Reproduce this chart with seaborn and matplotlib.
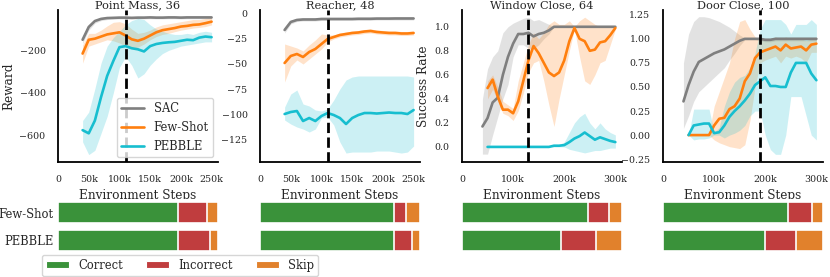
import matplotlib
matplotlib.use("Agg")
import matplotlib.pyplot as plt
from matplotlib.patches import Patch
from matplotlib.lines import Line2D
import seaborn as sns

sns.set_theme(style="white")
plt.rcParams["font.family"] = ["DejaVu Serif"]
plt.rcParams["axes.edgecolor"] = "black"
plt.rcParams["axes.linewidth"] = 1.3

# ---- learning curves (x in thousands of environment steps) ----
titles = ["Point Mass, 36", "Reacher, 48", "Window Close, 64", "Door Close, 100"]
switch_steps = [110, 110, 130, 190]

pm_steps = [40, 50, 60, 70, 80, 90, 100, 110, 120, 130, 140, 150, 160, 170, 180, 190, 200, 210, 220, 230, 240, 250]
pm_sac = [-150, -90, -62, -52, -48, -47, -46, -46, -47, -46, -46, -45, -46, -46, -45, -45, -46, -45, -45, -45, -45, -45]
pm_sac_lo = [-168, -105, -72, -60, -55, -53, -52, -52, -53, -52, -52, -51, -52, -52, -51, -51, -52, -51, -51, -51, -51, -51]
pm_sac_hi = [-132, -78, -54, -45, -42, -41, -40, -40, -41, -40, -40, -39, -40, -40, -39, -39, -40, -39, -39, -39, -39, -39]
pm_few = [-215, -150, -145, -135, -125, -120, -115, -130, -148, -155, -145, -130, -115, -105, -100, -95, -88, -85, -80, -78, -72, -65]
pm_few_lo = [-260, -180, -170, -160, -150, -155, -165, -180, -190, -185, -170, -150, -135, -125, -120, -112, -105, -100, -95, -92, -88, -80]
pm_few_hi = [-175, -120, -120, -105, -85, -68, -65, -75, -100, -120, -115, -105, -90, -80, -75, -70, -65, -60, -55, -55, -50, -45]
pm_peb = [-575, -590, -530, -420, -320, -250, -185, -180, -190, -195, -205, -180, -170, -165, -162, -160, -155, -150, -152, -140, -135, -138]
pm_peb_lo = [-630, -690, -670, -590, -510, -400, -280, -230, -270, -330, -310, -270, -240, -215, -200, -190, -180, -175, -170, -165, -160, -160]
pm_peb_hi = [-530, -490, -380, -260, -180, -140, -110, -80, -60, -50, -55, -80, -100, -110, -120, -125, -125, -120, -125, -115, -110, -115]

re_steps = pm_steps
re_sac = [-16, -8, -6, -5.5, -5.5, -5.5, -5, -5, -5, -5, -5, -5, -4.8, -4.8, -4.8, -4.6, -4.6, -4.6, -4.5, -4.5, -4.5, -4.5]
re_sac_lo = [-19, -10, -7.5, -7, -7, -7, -6.5, -6.5, -6.5, -6.5, -6.5, -6.5, -6.3, -6.3, -6.3, -6, -6, -6, -6, -6, -6, -6]
re_sac_hi = [-13, -6, -4.5, -4, -4, -4, -3.5, -3.5, -3.5, -3.5, -3.5, -3.5, -3.3, -3.3, -3.3, -3.2, -3.2, -3.2, -3, -3, -3, -3]
re_few = [-49, -42, -40, -43, -38, -35, -30, -25, -23, -21, -20, -19, -18.5, -17.5, -17, -18, -18.5, -19, -19, -19.5, -19.5, -19]
re_few_lo = [-68, -52, -46, -50, -45, -40, -35, -28, -25, -23, -22, -21, -20.5, -19.5, -19, -20, -20.5, -21, -21, -21.5, -21.5, -21]
re_few_hi = [-30, -32, -34, -37, -31, -26, -20, -21, -21, -19, -18, -17, -16.5, -15.5, -15, -16, -16.5, -17, -17, -17.5, -17.5, -17]
re_peb = [-100, -98, -97, -107, -104, -107, -102, -99, -101, -104, -110, -104, -101, -99, -99, -99.5, -99, -98.5, -99, -99, -100, -96]
re_peb_lo = [-106, -110, -113, -115, -118, -115, -104, -103, -111, -128, -139, -138, -138, -138, -138, -137, -137, -137, -138, -139, -138, -132]
re_peb_hi = [-93, -80, -76, -90, -92, -96, -97, -95, -86, -75, -66, -63, -62, -62, -62, -62, -62, -62, -62, -62, -62, -63]

mw_sac_steps = [40, 50, 60, 70, 80, 90, 100, 110, 120, 130, 140, 150, 160, 170, 180, 190, 200, 210, 220, 230, 240, 250, 260, 270, 280, 290, 300]
mw_steps = [50, 60, 70, 80, 90, 100, 110, 120, 130, 140, 150, 160, 170, 180, 190, 200, 210, 220, 230, 240, 250, 260, 270, 280, 290, 300]

wc_sac = [0.17, 0.24, 0.37, 0.41, 0.60, 0.75, 0.86, 0.94, 0.94, 0.95, 0.92, 0.94, 0.95, 0.97, 1.0, 1.0, 1.0, 1.0, 1.0, 1.0, 1.0, 1.0, 1.0, 1.0, 1.0, 1.0, 1.0]
wc_sac_lo = [-0.06, -0.06, 0.10, 0.25, 0.40, 0.52, 0.75, 0.85, 0.85, 0.82, 0.82, 0.85, 0.90, 0.94, 1.0, 1.0, 1.0, 1.0, 1.0, 1.0, 1.0, 1.0, 1.0, 1.0, 1.0, 1.0, 1.0]
wc_sac_hi = [0.40, 0.65, 0.75, 0.80, 0.95, 1.00, 1.03, 1.05, 1.07, 1.08, 1.05, 1.06, 1.04, 1.02, 1.0, 1.0, 1.0, 1.0, 1.0, 1.0, 1.0, 1.0, 1.0, 1.0, 1.0, 1.0, 1.0]
wc_few = [0.49, 0.56, 0.42, 0.31, 0.31, 0.28, 0.38, 0.55, 0.72, 0.84, 0.78, 0.70, 0.62, 0.59, 0.62, 0.72, 0.88, 0.99, 0.90, 0.88, 0.80, 0.81, 0.87, 0.88, 0.93, 0.99]
wc_few_lo = [0.40, 0.48, 0.38, 0.28, 0.26, 0.22, 0.30, 0.45, 0.62, 0.70, 0.72, 0.55, 0.35, 0.17, 0.40, 0.60, 0.80, 0.98, 0.75, 0.55, 0.52, 0.60, 0.70, 0.72, 0.85, 0.98]
wc_few_hi = [0.55, 0.60, 0.50, 0.38, 0.35, 0.32, 0.55, 0.70, 0.85, 0.95, 0.90, 0.95, 1.02, 1.05, 1.02, 1.02, 1.05, 1.0, 1.05, 1.08, 1.05, 1.02, 1.0, 1.0, 1.0, 1.0]
wc_peb = [0, 0, 0, 0, 0, 0, 0, 0, 0, 0, 0, 0, 0, 0.01, 0.01, 0.015, 0.04, 0.07, 0.09, 0.12, 0.09, 0.06, 0.08, 0.065, 0.05, 0.04]
wc_peb_lo = [0, 0, 0, 0, 0, 0, 0, 0, 0, 0, 0, 0, 0, 0.0, 0.0, 0.0, -0.02, -0.03, -0.04, -0.05, -0.04, -0.03, -0.03, -0.02, -0.01, -0.01]
wc_peb_hi = [0, 0, 0, 0, 0, 0, 0, 0, 0, 0, 0, 0, 0, 0.02, 0.02, 0.04, 0.12, 0.20, 0.25, 0.28, 0.20, 0.15, 0.20, 0.15, 0.12, 0.10]

dc_sac = [0.35, 0.52, 0.66, 0.76, 0.79, 0.82, 0.85, 0.87, 0.89, 0.92, 0.95, 0.98, 1.0, 1.0, 1.0, 1.0, 0.99, 0.99, 1.0, 1.0, 1.0, 1.0, 1.0, 1.0, 1.0, 1.0, 1.0]
dc_sac_lo = [0.07, 0.20, 0.35, 0.45, 0.50, 0.55, 0.60, 0.65, 0.70, 0.78, 0.85, 0.93, 0.99, 0.99, 0.99, 0.98, 0.97, 0.97, 0.98, 0.98, 0.98, 0.98, 0.98, 0.98, 0.98, 0.98, 0.98]
dc_sac_hi = [0.75, 1.05, 1.18, 1.23, 1.23, 1.22, 1.20, 1.18, 1.15, 1.12, 1.08, 1.04, 1.01, 1.01, 1.01, 1.01, 1.01, 1.01, 1.02, 1.02, 1.02, 1.02, 1.02, 1.02, 1.02, 1.02, 1.02]
dc_few = [0, 0, 0, 0, 0, 0.10, 0.17, 0.18, 0.27, 0.30, 0.38, 0.56, 0.64, 0.80, 0.86, 0.88, 0.90, 0.92, 0.88, 0.94, 0.90, 0.91, 0.92, 0.88, 0.94, 0.95]
dc_few_lo = [0, 0, 0, 0, 0, -0.05, -0.08, -0.10, -0.12, -0.13, -0.14, -0.10, 0.15, 0.50, 0.75, 0.78, 0.80, 0.82, 0.75, 0.82, 0.80, 0.82, 0.80, 0.75, 0.86, 0.86]
dc_few_hi = [0, 0, 0, 0, 0.02, 0.30, 0.45, 0.60, 0.75, 1.00, 1.18, 1.20, 1.10, 1.02, 1.00, 0.98, 1.00, 1.02, 1.00, 1.02, 1.00, 1.00, 1.00, 0.98, 1.00, 1.02]
dc_peb = [0, 0.10, 0.11, 0.12, 0.12, 0.02, 0.03, 0.10, 0.19, 0.25, 0.30, 0.36, 0.43, 0.52, 0.56, 0.60, 0.51, 0.51, 0.50, 0.50, 0.65, 0.75, 0.75, 0.75, 0.64, 0.57]
dc_peb_lo = [0, -0.05, -0.04, -0.04, -0.03, 0.0, 0.0, -0.03, 0.0, 0.02, 0.05, 0.10, 0.20, 0.25, 0.25, 0.0, -0.15, -0.20, -0.20, 0.0, 0.40, 0.40, 0.40, 0.20, 0.0, -0.05]
dc_peb_hi = [0, 0.27, 0.27, 0.27, 0.27, 0.03, 0.08, 0.30, 0.45, 0.55, 0.60, 0.62, 0.70, 0.85, 1.10, 1.20, 1.20, 1.20, 1.20, 1.15, 1.05, 1.15, 1.15, 1.15, 1.20, 1.15]

# ---- feedback breakdown (% of queries) ----
methods = ["Few-Shot", "PEBBLE"]
fs_correct = [75.0, 83.6, 78.6, 78.0]
fs_incorrect = [18.0, 7.4, 13.0, 15.0]
fs_skip = [7.0, 9.0, 8.4, 7.0]
peb_correct = [75.0, 83.6, 61.6, 63.7]
peb_incorrect = [20.0, 11.6, 22.2, 19.5]
peb_skip = [5.0, 4.8, 16.2, 16.8]

sac_color = "tab:gray"
few_color = "tab:orange"
peb_color = "tab:cyan"
correct_color = sns.desaturate("tab:green", 0.75)
incorrect_color = sns.desaturate("tab:red", 0.75)
skip_color = sns.desaturate("tab:orange", 0.75)

panels = [
    (pm_steps, pm_sac, pm_sac_lo, pm_sac_hi, pm_steps, pm_few, pm_few_lo, pm_few_hi, pm_peb, pm_peb_lo, pm_peb_hi),
    (re_steps, re_sac, re_sac_lo, re_sac_hi, re_steps, re_few, re_few_lo, re_few_hi, re_peb, re_peb_lo, re_peb_hi),
    (mw_sac_steps, wc_sac, wc_sac_lo, wc_sac_hi, mw_steps, wc_few, wc_few_lo, wc_few_hi, wc_peb, wc_peb_lo, wc_peb_hi),
    (mw_sac_steps, dc_sac, dc_sac_lo, dc_sac_hi, mw_steps, dc_few, dc_few_lo, dc_few_hi, dc_peb, dc_peb_lo, dc_peb_hi),
]
ylims = [(-725, -10), (-148, 4), (-0.126, 1.14), (-0.28, 1.30)]
yticks = [[-600, -400, -200], [-125, -100, -75, -50, -25, 0],
          [0.0, 0.2, 0.4, 0.6, 0.8, 1.0], [-0.25, 0.0, 0.25, 0.5, 0.75, 1.0, 1.25]]
xlims = [(0, 260.5), (0, 260.5), (0, 313), (0, 313)]
xticks = [[0, 50, 100, 150, 200, 250], [0, 50, 100, 150, 200, 250], [0, 100, 200, 300], [0, 100, 200, 300]]
ylabels = ["Reward", "", "Success Rate", ""]

fig = plt.figure(figsize=(8.3, 2.77), dpi=100)
lefts = [0.0699, 0.3133, 0.5566, 0.7988]
width = 0.1928


def draw_curve(ax, x, mean, lo, hi, color, label):
    ax.fill_between(x, lo, hi, color=color, alpha=0.22, lw=0)
    sns.lineplot(x=x, y=mean, ax=ax, color=color, lw=1.9, label=label)


for i, left in enumerate(lefts):
    ax = fig.add_axes([left, 0.415, width, 0.549])
    sx, s, slo, shi, x, f, flo, fhi, p, plo, phi = panels[i]
    draw_curve(ax, sx, s, slo, shi, sac_color, "SAC")
    draw_curve(ax, x, f, flo, fhi, few_color, "Few-Shot")
    draw_curve(ax, x, p, plo, phi, peb_color, "PEBBLE")
    ax.axvline(switch_steps[i], color="black", ls="--", lw=2.0, zorder=5)
    if ax.get_legend():
        ax.get_legend().remove()
    ax.set_xlim(*xlims[i])
    ax.set_ylim(*ylims[i])
    ax.set_yticks(yticks[i])
    ax.set_xticks(xticks[i])
    ax.set_xticklabels(["0"] + [f"{t}k" for t in xticks[i][1:]])
    ax.tick_params(labelsize=6.8, pad=3)
    ax.set_title(titles[i], fontsize=8.2, pad=1.5)
    ax.set_xlabel("Environment Steps", fontsize=8.7, labelpad=4)
    ax.set_ylabel(ylabels[i], fontsize=8.7, labelpad=3)
    sns.despine(ax=ax)
    if i == 0:
        handles = [Line2D([], [], color=c, lw=1.9) for c in (sac_color, few_color, peb_color)]
        ax.legend(handles, ["SAC", "Few-Shot", "PEBBLE"], loc="lower right",
                  fontsize=8.3, borderaxespad=0.4, handlelength=2.0)

    # stacked feedback bars below each curve panel
    bax = fig.add_axes([left, 0.082, width, 0.2007])
    correct = [fs_correct[i], peb_correct[i]]
    incorrect = [fs_incorrect[i], peb_incorrect[i]]
    skip = [fs_skip[i], peb_skip[i]]
    total = [c + w + k for c, w, k in zip(correct, incorrect, skip)]
    cum = [c + w for c, w in zip(correct, incorrect)]
    for vals, col in ((total, skip_color), (cum, incorrect_color), (correct, correct_color)):
        sns.barplot(x=vals, y=methods, ax=bax, color=col, saturation=1, orient="y",
                    width=0.78, edgecolor="white", linewidth=1.2)
    bax.set_xlim(0, 100)
    bax.set_xticks([])
    bax.set_xlabel("")
    bax.tick_params(axis="y", length=0, labelsize=8.3, pad=3)
    if i > 0:
        bax.set_yticklabels([])
    sns.despine(ax=bax, left=True, bottom=True)

legend_handles = [Patch(facecolor=c, edgecolor="white", lw=0.8)
                  for c in (correct_color, incorrect_color, skip_color)]
fig.legend(legend_handles, ["Correct", "Incorrect", "Skip"], ncol=3, loc="lower center",
           bbox_to_anchor=(0.2165, 0.004), fontsize=8.3, handlelength=2.0,
           handleheight=0.55, handletextpad=0.8, columnspacing=2.0,
           borderpad=0.35, borderaxespad=0.0)

fig.savefig("out.png", dpi=100)
